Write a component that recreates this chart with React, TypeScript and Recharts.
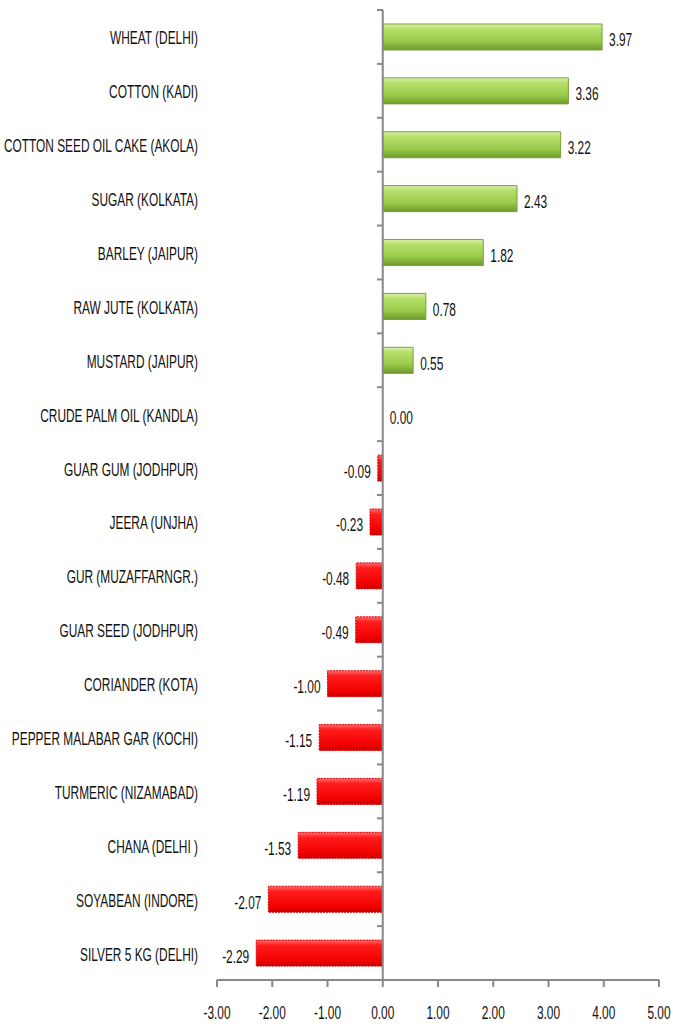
import { BarChart, Bar, XAxis, YAxis, ReferenceLine, ReferenceDot, LabelList, Cell } from 'recharts'

const commodities = [
  'WHEAT (DELHI)',
  'COTTON (KADI)',
  'COTTON SEED OIL CAKE (AKOLA)',
  'SUGAR (KOLKATA)',
  'BARLEY (JAIPUR)',
  'RAW JUTE (KOLKATA)',
  'MUSTARD (JAIPUR)',
  'CRUDE PALM OIL (KANDLA)',
  'GUAR GUM (JODHPUR)',
  'JEERA (UNJHA)',
  'GUR (MUZAFFARNGR.)',
  'GUAR SEED (JODHPUR)',
  'CORIANDER (KOTA)',
  'PEPPER MALABAR GAR (KOCHI)',
  'TURMERIC (NIZAMABAD)',
  'CHANA (DELHI )',
  'SOYABEAN (INDORE)',
  'SILVER 5 KG (DELHI)',
]

const changes = [3.97, 3.36, 3.22, 2.43, 1.82, 0.78, 0.55, 0.0, -0.09, -0.23, -0.48, -0.49, -1.0, -1.15, -1.19, -1.53, -2.07, -2.29]

const xTicks = [-3, -2, -1, 0, 1, 2, 3, 4, 5]

const data = commodities.map((name, i) => ({ name, value: changes[i] }))

const FONT = '"Liberation Sans", Arial, sans-serif'
const TOP = 10
const X_AXIS_H = 48
const PLOT_H = 1028 - TOP - X_AXIS_H
const BAND = PLOT_H / commodities.length
const AXIS_X = 383
const SQUEEZE = 0.66

function NarrowText({ x, y, anchor, children }: any) {
  return (
    <text
      transform={`translate(${x},${y}) scale(${SQUEEZE},1)`}
      x={0}
      y={0}
      textAnchor={anchor}
      dominantBaseline="central"
      fontSize={18}
      fontFamily={FONT}
      fill="#111"
    >
      {children}
    </text>
  )
}

function CategoryTick(props: any) {
  const { y, payload, index } = props
  return (
    <g>
      <NarrowText x={198} y={y + 1} anchor="end">{payload.value}</NarrowText>
      <line x1={AXIS_X - 6} x2={AXIS_X} y1={y - BAND / 2} y2={y - BAND / 2} stroke="#888" strokeWidth={2} />
      {index === commodities.length - 1 && (
        <line x1={AXIS_X - 6} x2={AXIS_X} y1={y + BAND / 2} y2={y + BAND / 2} stroke="#888" strokeWidth={2} />
      )}
    </g>
  )
}

function NumberTick(props: any) {
  const { x, y, payload } = props
  return (
    <NarrowText x={x} y={y + 14} anchor="middle">{Number(payload.value).toFixed(2)}</NarrowText>
  )
}

function ValueLabel(props: any) {
  const { x, y, width, height, value } = props
  const cy = y + height / 2 + 3
  if (value < 0) {
    const end = Math.min(x, x + width)
    return <NarrowText x={end - 7} y={cy} anchor="end">{value.toFixed(2)}</NarrowText>
  }
  const end = Math.max(x, x + width)
  return <NarrowText x={end + 7} y={cy} anchor="start">{value.toFixed(2)}</NarrowText>
}

function ZeroLabel(props: any) {
  const { viewBox, value } = props
  return <NarrowText x={viewBox.x + 7} y={viewBox.y + 3} anchor="start">{value}</NarrowText>
}

export default function App() {
  return (
    <div style={{ position: 'absolute', left: 0, top: 0, background: '#fff' }}>
      <BarChart
        width={673}
        height={1028}
        data={data}
        layout="vertical"
        margin={{ top: TOP, right: 14, bottom: 0, left: 0 }}
      >
        <defs>
          <linearGradient id="greenBar" x1="0" y1="0" x2="0" y2="1">
            <stop offset="0%" stopColor="#dcf2ae" />
            <stop offset="18%" stopColor="#b6e06c" />
            <stop offset="65%" stopColor="#9acb4b" />
            <stop offset="100%" stopColor="#6f9a2c" />
          </linearGradient>
          <linearGradient id="redBar" x1="0" y1="0" x2="0" y2="1">
            <stop offset="0%" stopColor="#ff6a6a" />
            <stop offset="20%" stopColor="#ff1c1c" />
            <stop offset="80%" stopColor="#f20000" />
            <stop offset="100%" stopColor="#c40000" />
          </linearGradient>
        </defs>
        <XAxis
          type="number"
          domain={[-3, 5]}
          ticks={xTicks}
          height={X_AXIS_H}
          axisLine={{ stroke: '#888', strokeWidth: 2 }}
          tickLine={{ stroke: '#888', strokeWidth: 2 }}
          tickSize={7}
          tickMargin={12}
          tick={<NumberTick />}
          interval={0}
        />
        <YAxis
          type="category"
          dataKey="name"
          width={217}
          axisLine={false}
          tickLine={false}
          tick={<CategoryTick />}
          interval={0}
        />
        <ReferenceLine x={0} stroke="#888" strokeWidth={2} />
        <Bar dataKey="value" barSize={26} isAnimationActive={false}>
          {data.map((d, i) => (
            <Cell
              key={i}
              fill={d.value >= 0 ? 'url(#greenBar)' : 'url(#redBar)'}
              stroke={d.value >= 0 ? '#7c9e3c' : '#d40000'}
              strokeDasharray={d.value >= 0 ? undefined : '2 1'}
              strokeWidth={1}
            />
          ))}
          <LabelList dataKey="value" content={<ValueLabel />} />
        </Bar>
        {data
          .filter((d) => d.value === 0)
          .map((d) => (
            <ReferenceDot
              key={d.name}
              x={0}
              y={d.name}
              r={0}
              fill="none"
              stroke="none"
              label={<ZeroLabel value={d.value.toFixed(2)} />}
            />
          ))}
      </BarChart>
    </div>
  )
}
